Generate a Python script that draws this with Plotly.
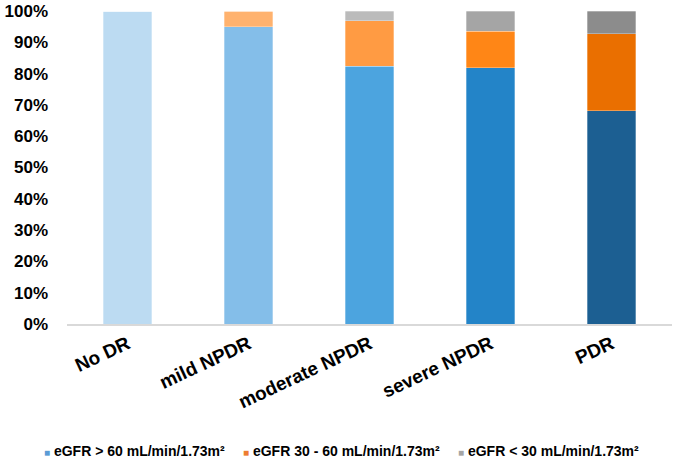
import plotly.graph_objects as go

categories = ["No DR", "mild NPDR", "moderate NPDR", "severe NPDR", "PDR"]
egfr_gt60 = [100.0, 95.0, 82.4, 81.9, 68.1]
egfr_30_60 = [0.0, 5.0, 14.5, 11.6, 24.7]
egfr_lt30 = [0.0, 0.0, 3.1, 6.5, 7.2]
series_names = ["eGFR > 60 mL/min/1.73m²", "eGFR 30 - 60 mL/min/1.73m²", "eGFR < 30 mL/min/1.73m²"]
y_ticks = list(range(0, 101, 10))
y_ticktext = [f"{v}%" for v in y_ticks]

blue_cols = ["#BCDBF2", "#84BEE9", "#4CA4DF", "#2384C8", "#1C5F92"]
orange_cols = ["#FFB26E", "#FFB26E", "#FF9B43", "#FF8616", "#EA6F00"]
gray_cols = ["#BBBBBB", "#BBBBBB", "#BBBBBB", "#A5A5A5", "#8C8C8C"]
legend_cols = ["#5B9BD5", "#ED7D31", "#A5A5A5"]

FONT = "Arial, 'Liberation Sans', sans-serif"

fig = go.Figure()
for vals, cols, name in zip([egfr_gt60, egfr_30_60, egfr_lt30],
                            [blue_cols, orange_cols, gray_cols], series_names):
    fig.add_trace(go.Bar(
        x=categories, y=vals, name=name, showlegend=False,
        marker=dict(color=cols, line=dict(width=0.6, color="rgba(255,255,255,0.5)")),
    ))

fig.update_layout(
    barmode="stack",
    bargap=0.6,
    width=675, height=461,
    margin=dict(l=67, r=3, t=11, b=137),
    paper_bgcolor="white", plot_bgcolor="white",
    font=dict(family=FONT, color="black"),
    showlegend=False,
)
fig.update_yaxes(
    range=[0, 100], tickvals=y_ticks, ticktext=y_ticktext,
    showgrid=False, zeroline=False, showline=False, automargin=False,
    tickfont=dict(size=17, weight="bold", family=FONT, color="black"),
    ticklabelstandoff=18,
)
fig.update_xaxes(
    showgrid=False, showline=True, linecolor="#D9D9D9", linewidth=1.5,
    tickangle=-25, automargin=False,
    tickfont=dict(size=19, weight="bold", family=FONT, color="black"),
    ticklabelstandoff=0,
)

# legend drawn as text items
leg_px = [42, 241, 456]
for px, name, col in zip(leg_px, series_names, legend_cols):
    fig.add_annotation(
        xref="paper", yref="paper",
        x=(px - 67) / 605, y=(324 - 451) / 313,
        xanchor="left", yanchor="middle", showarrow=False,
        text=f"<span style='color:{col};font-size:10px'>■</span> {name}",
        font=dict(size=14, weight="bold", family=FONT, color="black"),
    )

fig.write_html("out.html", config={"displayModeBar": False},
               post_script="document.body.style.margin='0px';")
